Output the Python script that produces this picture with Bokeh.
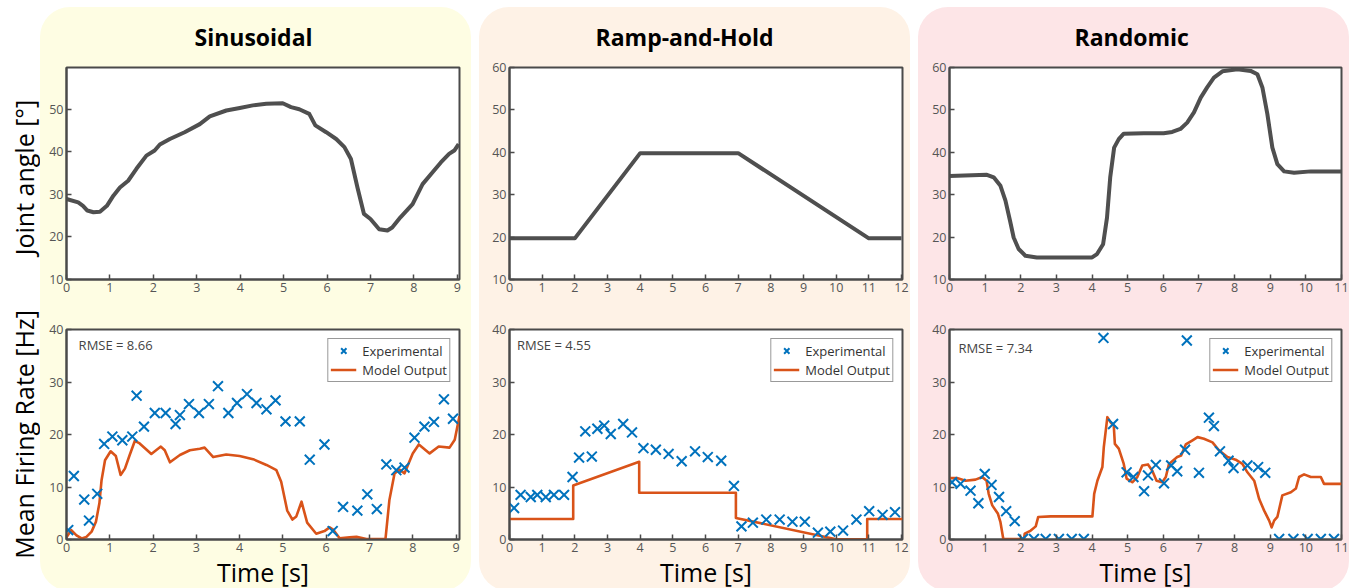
from math import pi
from bokeh.plotting import figure
from bokeh.layouts import row, column
from bokeh.models import Range1d, FixedTicker, Legend, LegendItem, Label
from bokeh.core.properties import value
from bokeh.embed import file_html
from bokeh.resources import INLINE

FONT = "Open Sans"
BLUE = "#0072BD"
ORANGE = "#D95319"
ANGLE_COLOR = "#4f4f4f"
FRAME = "#4a4a4a"
TICK = "#555555"

titles = ["Sinusoidal", "Ramp-and-Hold", "Randomic"]
panel_colors = ["#fefde3", "#fef2e6", "#fde5e7"]
rmse_texts = ["RMSE = 8.66", "RMSE = 4.55", "RMSE = 7.34"]
legend_labels = ["Experimental", "Model Output"]
y_label_top = "Joint angle [°]"
y_label_bottom = "Mean Firing Rate [Hz]"
x_label = "Time [s]"

# ---------------- Sinusoidal ----------------
sin_angle_t = [0, 0.27, 0.38, 0.48, 0.62, 0.77, 0.93, 1.08, 1.23, 1.42, 1.61, 1.84, 2.03, 2.15, 2.38,
               2.72, 3.07, 3.3, 3.68, 3.99, 4.29, 4.6, 4.98, 5.17, 5.36, 5.59, 5.73, 5.98, 6.21, 6.4,
               6.55, 6.7, 6.85, 7.0, 7.2, 7.39, 7.5, 7.69, 7.97, 8.2, 8.43, 8.62, 8.81, 8.93, 9.03]
sin_angle = [28.9, 28.1, 27.3, 26.2, 25.8, 25.9, 27.3, 29.7, 31.6, 33.2, 36.0, 39.1, 40.3, 41.7, 43.0,
             44.6, 46.5, 48.3, 49.7, 50.3, 50.9, 51.3, 51.4, 50.5, 50.0, 48.9, 46.2, 44.6, 43.0, 41.1,
             38.3, 31.6, 25.4, 24.2, 21.8, 21.5, 22.2, 24.6, 27.7, 32.4, 35.2, 37.5, 39.5, 40.3, 41.8]

sin_exp_t = [0.04, 0.17, 0.41, 0.52, 0.71, 0.87, 1.06, 1.29, 1.52, 1.62, 1.79, 2.04, 2.29, 2.52, 2.62,
             2.83, 3.06, 3.29, 3.5, 3.74, 3.94, 4.17, 4.39, 4.62, 4.83, 5.06, 5.39, 5.62, 5.96, 6.15,
             6.39, 6.72, 6.95, 7.17, 7.39, 7.62, 7.81, 8.04, 8.27, 8.49, 8.72, 8.93]
sin_exp = [1.8, 12.1, 7.6, 3.6, 8.7, 18.2, 19.6, 18.9, 19.6, 27.4, 21.5, 24.1, 24.1, 22.0, 23.7,
           25.8, 24.1, 25.8, 29.2, 24.1, 26.0, 27.7, 26.0, 24.8, 26.5, 22.5, 22.5, 15.2, 18.1, 1.6,
           6.2, 5.5, 8.6, 5.8, 14.3, 13.2, 13.7, 19.4, 21.5, 22.4, 26.7, 23.0]

sin_model_t = [0, 0.11, 0.23, 0.35, 0.46, 0.58, 0.68, 0.76, 0.81, 0.89, 1.02, 1.14, 1.25, 1.35, 1.46,
               1.58, 1.69, 1.96, 2.18, 2.27, 2.39, 2.62, 2.85, 3.08, 3.19, 3.39, 3.69, 4.0, 4.31, 4.62,
               4.85, 4.96, 5.1, 5.22, 5.31, 5.43, 5.56, 5.77, 5.96, 6.08, 6.16, 6.31, 6.54, 6.7, 6.93,
               7.37, 7.46, 7.58, 7.69, 7.81, 8.0, 8.14, 8.39, 8.6, 8.85, 8.97, 9.08]
sin_model = [0.4, 1.8, 0.8, 0.2, 0.5, 1.5, 3.4, 6.9, 11.3, 15.1, 16.8, 15.9, 12.3, 13.5, 16.1,
             18.8, 18.3, 16.3, 17.7, 17.0, 14.7, 16.1, 17.0, 17.3, 17.5, 15.7, 16.2, 15.9, 15.3, 14.2,
             13.2, 11.0, 5.5, 3.8, 4.4, 7.2, 3.2, 1.1, 1.6, 2.3, 1.9, 0.25, 0.4, 0.5, 0.1,
             0.1, 7.5, 12.6, 13.3, 12.6, 16.4, 18.1, 16.4, 17.7, 17.5, 19.0, 23.5]

# ---------------- Ramp-and-Hold ----------------
ramp_angle_t = [0, 2, 4, 7, 11, 12]
ramp_angle = [19.7, 19.7, 39.8, 39.8, 19.7, 19.7]

ramp_exp_t = [0.14, 0.34, 0.65, 0.85, 1.11, 1.36, 1.67, 1.93, 2.13, 2.32, 2.52, 2.69, 2.9, 3.1, 3.48,
              3.75, 4.1, 4.48, 4.87, 5.27, 5.68, 6.07, 6.48, 6.87, 7.1, 7.45, 7.86, 8.27, 8.66, 9.04,
              9.44, 9.82, 10.21, 10.62, 11.01, 11.42, 11.8]
ramp_exp = [6.0, 8.5, 8.1, 8.5, 8.1, 8.5, 8.5, 11.9, 15.6, 20.6, 15.8, 21.1, 21.7, 20.1, 22.0,
            20.4, 17.4, 17.1, 16.3, 14.9, 16.8, 15.7, 15.0, 10.2, 2.5, 3.2, 3.8, 3.8, 3.4, 3.4,
            1.3, 1.5, 1.7, 3.8, 5.4, 4.7, 5.2]

ramp_model_t = [0, 1.95, 1.95, 3.97, 3.97, 6.93, 6.93, 10.0, 10.95, 10.95, 12.03]
ramp_model = [3.9, 3.9, 10.3, 14.8, 8.9, 8.9, 4.1, 0.05, 0.05, 3.9, 3.9]

# ---------------- Randomic ----------------
rand_angle_t = [0, 1.05, 1.24, 1.43, 1.57, 1.7, 1.8, 1.94, 2.13, 2.45, 4.0, 4.14, 4.31, 4.42, 4.51,
                4.62, 4.75, 4.89, 5.45, 6.01, 6.25, 6.48, 6.67, 6.86, 7.05, 7.23, 7.42, 7.66, 8.08,
                8.45, 8.64, 8.78, 8.92, 9.06, 9.2, 9.39, 9.67, 10.14, 11.0]
rand_angle = [34.4, 34.7, 34.1, 32.1, 28.6, 23.8, 19.9, 17.2, 15.6, 15.2, 15.2, 16.0, 18.3, 24.6, 34.1,
              41.1, 43.1, 44.4, 44.5, 44.5, 44.8, 45.5, 47.0, 49.4, 52.9, 55.3, 57.6, 59.1, 59.6,
              59.2, 58.4, 55.3, 49.0, 41.1, 37.2, 35.5, 35.2, 35.5, 35.5]

rand_exp_t = [0.07, 0.31, 0.59, 0.81, 0.99, 1.18, 1.39, 1.59, 1.83, 2.06, 2.37, 2.7, 3.07, 3.43, 3.77,
              4.32, 4.59, 4.97, 5.16, 5.46, 5.57, 5.79, 6.02, 6.22, 6.39, 6.61, 6.66, 7.0, 7.28, 7.42,
              7.59, 7.83, 7.97, 8.36, 8.66, 8.86, 9.25, 9.65, 10.05, 10.42, 10.79]
rand_exp = [10.9, 10.6, 9.3, 6.9, 12.5, 10.4, 8.1, 5.4, 3.5, 0.1, 0.1, 0.1, 0.1, 0.1, 0.1,
            38.4, 22.0, 12.8, 11.9, 9.2, 12.2, 14.2, 10.7, 14.1, 13.0, 17.1, 37.9, 12.7, 23.2, 21.6,
            16.8, 15.0, 13.6, 14.1, 13.8, 12.7, 0.1, 0.1, 0.1, 0.1, 0.1]

rand_model_t = [0, 0.21, 0.45, 0.73, 0.92, 1.04, 1.1, 1.2, 1.36, 1.43, 1.51, 2.09, 2.11, 2.28, 2.42,
                2.49, 2.84, 4.01, 4.06, 4.15, 4.29, 4.33, 4.43, 4.52, 4.61, 4.64, 4.75, 4.89, 4.97,
                5.13, 5.27, 5.41, 5.57, 5.69, 5.81, 5.97, 6.07, 6.16, 6.39, 6.5, 6.63, 6.82, 6.96,
                7.14, 7.38, 7.56, 7.8, 8.03, 8.22, 8.36, 8.55, 8.69, 8.83, 8.97, 9.04, 9.11, 9.2,
                9.34, 9.58, 9.72, 9.81, 9.95, 10.14, 10.42, 10.51, 11.0]
rand_model = [11.7, 11.7, 11.2, 11.4, 11.9, 11.2, 8.7, 6.5, 4.9, 3.3, 0.1, 0.1, 1.1, 1.7, 2.5,
              4.3, 4.4, 4.4, 8.7, 11.2, 13.8, 17.6, 23.3, 22.3, 21.7, 18.2, 17.3, 14.4, 11.6,
              10.9, 11.9, 14.1, 14.3, 13.1, 11.2, 10.9, 11.9, 14.4, 15.7, 16.0, 18.1, 18.9, 19.5,
              19.2, 18.5, 17.0, 15.7, 15.2, 14.4, 12.8, 11.2, 7.7, 5.5, 3.6, 2.3, 3.6, 4.3,
              8.4, 9.0, 9.7, 11.9, 12.4, 11.9, 11.9, 10.6, 10.6]

angle_ticks_first = [10, 20, 30, 40, 50]
angle_ticks = [10, 20, 30, 40, 50, 60]
rate_ticks = [0, 10, 20, 30, 40]

panels = [
    dict(title=titles[0], color=panel_colors[0], xmax_top=9.05, xmax_bot=9.08, ymax_top=59.8,
         xticks=list(range(0, 10)), yticks=angle_ticks_first,
         at=sin_angle_t, a=sin_angle, et=sin_exp_t, e=sin_exp, mt=sin_model_t, m=sin_model,
         rmse=rmse_texts[0], rmse_x=0.28, rmse_y=37.0,
         left=26, fw=393, right=12, toff=128, mleft=0),
    dict(title=titles[1], color=panel_colors[1], xmax_top=12.03, xmax_bot=12.03, ymax_top=60,
         xticks=list(range(0, 13)), yticks=angle_ticks,
         at=ramp_angle_t, a=ramp_angle, et=ramp_exp_t, e=ramp_exp, mt=ramp_model_t, m=ramp_model,
         rmse=rmse_texts[1], rmse_x=0.23, rmse_y=37.1,
         left=30, fw=393, right=8, toff=86, mleft=8),
    dict(title=titles[2], color=panel_colors[2], xmax_top=11.0, xmax_bot=11.0, ymax_top=60,
         xticks=list(range(0, 12)), yticks=angle_ticks,
         at=rand_angle_t, a=rand_angle, et=rand_exp_t, e=rand_exp, mt=rand_model_t, m=rand_model,
         rmse=rmse_texts[2], rmse_x=0.25, rmse_y=36.4,
         left=31, fw=392, right=8, toff=125, mleft=8),
]


def style_axes(p, xticks, yticks):
    p.grid.visible = False
    p.border_fill_color = None
    p.background_fill_color = "white"
    p.outline_line_color = FRAME
    p.outline_line_width = 2
    p.xaxis.ticker = FixedTicker(ticks=xticks)
    p.yaxis.ticker = FixedTicker(ticks=yticks)
    for ax in (p.xaxis[0], p.yaxis[0]):
        ax.axis_line_color = FRAME
        ax.axis_line_width = 2
        ax.major_tick_in = 5
        ax.major_tick_out = 0
        ax.major_tick_line_color = FRAME
        ax.major_tick_line_width = 1.5
        ax.minor_tick_line_color = None
        ax.major_label_text_font = FONT
        ax.major_label_text_font_size = "12.5px"
        ax.major_label_text_color = TICK
        ax.major_label_standoff = 3


columns = []
for i, d in enumerate(panels):
    top = figure(frame_width=d["fw"], frame_height=212,
                 min_border_left=d["left"], min_border_right=d["right"],
                 min_border_top=60, min_border_bottom=26,
                 x_range=Range1d(0, d["xmax_top"]), y_range=Range1d(10, d["ymax_top"]),
                 output_backend="svg", toolbar_location=None, tools="")
    style_axes(top, d["xticks"], d["yticks"])
    top.line(d["at"], d["a"], line_color=ANGLE_COLOR, line_width=4, line_join="round")
    top.title.text = d["title"]
    top.title.align = "left"
    top.title.offset = d["toff"]
    top.title.vertical_align = "top"
    top.title.text_font = FONT
    top.title.text_font_size = "23px"
    top.title.text_font_style = "bold"
    top.title.text_color = "black"
    top.title.standoff = 26

    bot = figure(frame_width=d["fw"], frame_height=210,
                 min_border_left=d["left"], min_border_right=d["right"],
                 min_border_top=24, min_border_bottom=46,
                 x_range=Range1d(0, d["xmax_bot"]), y_range=Range1d(0, 40),
                 output_backend="svg", toolbar_location=None, tools="")
    style_axes(bot, d["xticks"], rate_ticks)
    bot.xaxis.axis_label = x_label
    bot.xaxis.axis_label_text_font = FONT
    bot.xaxis.axis_label_text_font_size = "25px"
    bot.xaxis.axis_label_text_font_style = "normal"
    bot.xaxis.axis_label_text_color = "black"
    bot.xaxis.axis_label_standoff = 0

    r_line = bot.line(d["mt"], d["m"], line_color=ORANGE, line_width=2.6, line_join="round")
    r_x = bot.scatter(d["et"], d["e"], marker="x", size=14, line_color=BLUE, line_width=2)

    leg = Legend(items=[LegendItem(label=legend_labels[0], renderers=[r_x]),
                        LegendItem(label=legend_labels[1], renderers=[r_line])],
                 location="top_right")
    leg.border_line_color = "#333333"
    leg.border_line_width = 1.5
    leg.background_fill_color = "white"
    leg.background_fill_alpha = 1
    leg.label_text_font = FONT
    leg.label_text_font_size = "13px"
    leg.label_text_color = "#333333"
    leg.glyph_width = 26
    leg.glyph_height = 19
    leg.label_height = 19
    leg.spacing = 0
    leg.padding = 2
    leg.margin = 9
    leg.label_standoff = 6
    bot.add_layout(leg)

    bot.add_layout(Label(x=d["rmse_x"], y=d["rmse_y"], text=d["rmse"], text_font=FONT,
                         text_font_size="13px", text_color="#444444", text_baseline="middle"))

    col = column(top, bot, spacing=0,
                 styles={"background-color": d["color"], "border-radius": "30px"},
                 margin=(7, 0, 0, d["mleft"]))
    columns.append(col)

lab = figure(frame_width=40, frame_height=588, min_border=0,
             x_range=Range1d(0, 40), y_range=Range1d(0, 588),
             x_axis_location=None, y_axis_location=None,
             output_backend="svg", toolbar_location=None, tools="")
lab.grid.visible = False
lab.outline_line_color = None
lab.border_fill_color = None
lab.background_fill_color = None
lab.text(x=[23, 23], y=[588 - 177, 588 - 434], text=[y_label_top, y_label_bottom], angle=pi / 2,
         text_align="center", text_baseline="middle", text_font=value(FONT),
         text_font_size="25px", text_color="black")

root = row(lab, *columns, spacing=0)
open("out.html", "w").write(file_html(root, INLINE))
